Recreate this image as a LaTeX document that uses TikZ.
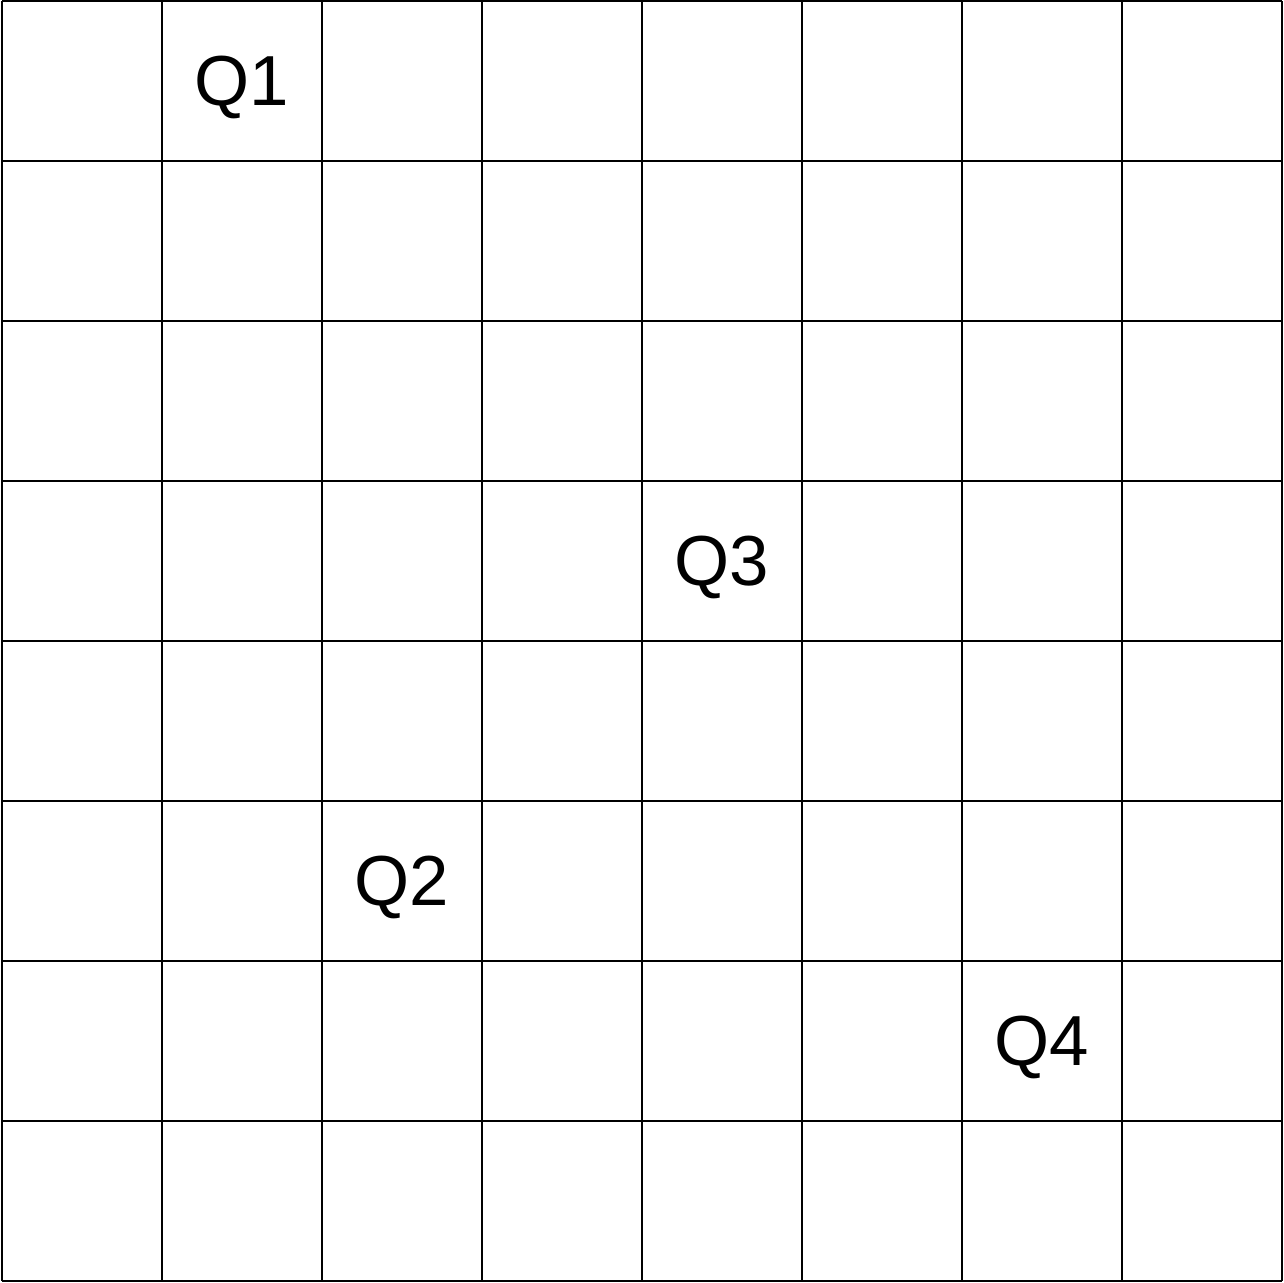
\documentclass[tikz,border=0pt]{standalone}
\usepackage{fontspec}
\setmainfont{Liberation Sans}
\usepackage{tikz}
\usetikzlibrary{positioning}

\tikzset{
  gridline/.style={line width=0.4pt, black},
  qlabel/.style={font=\fontsize{12.6}{15}\selectfont, inner sep=0pt, yshift=-0.4mm}
}

\begin{document}
\begin{tikzpicture}
      \useasboundingbox (-0.0125,-0.00625) rectangle (8.0125,8.00625);
      \foreach \i in {0,...,8} {
        \draw[gridline] (\i,0) -- (\i,8);
        \draw[gridline] (0,\i) -- (8,\i);
      }
      % labels, one per column/row of the board
      \node[qlabel] (q1) at (1.5,7.5) {Q1};
      \node[qlabel] (q3) at (4.5,4.5) {Q3};
      \node[qlabel] (q2) at (2.5,2.5) {Q2};
      \node[qlabel] (q4) at (6.5,1.5) {Q4};
    \end{tikzpicture}
\end{document}
